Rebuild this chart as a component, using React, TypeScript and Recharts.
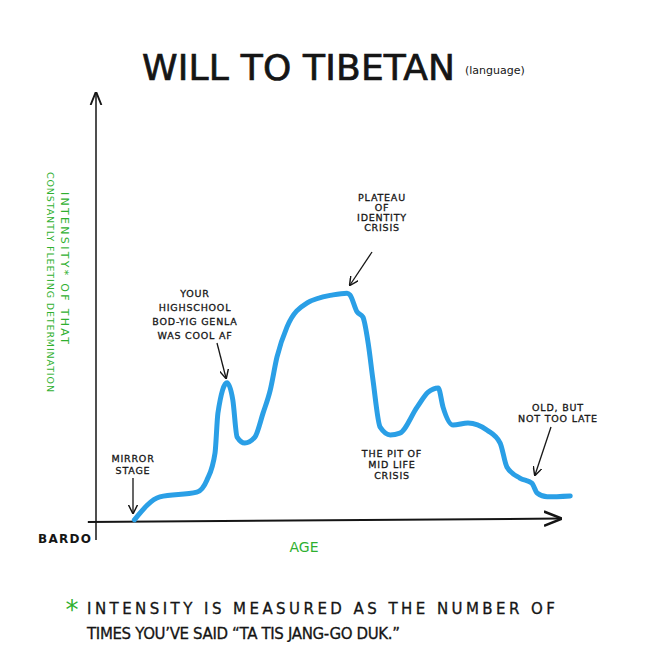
import React from 'react';
import { LineChart, Line, XAxis, YAxis, ReferenceLine } from 'recharts';

// age (x) and intensity (y)
const ages = [
  8, 13.3, 21, 23.1, 24.8, 25.4, 27.3, 28.5, 29.4, 31, 33.1, 34.8, 36.3, 37.7, 39.8, 44,
  49.4, 52.3, 52.9, 54.4, 55.6, 56.7, 57.7, 59.2, 61.3, 63.3, 66.9, 69.2, 71.3, 72.3,
  74.4, 77.5, 81.5, 84.2, 85.6, 88.3, 90.8, 91.9, 94, 98.8,
];
const intensity = [
  0.5, 5.9, 7, 9.8, 16.2, 25.5, 32.6, 28.6, 19.9, 18.5, 19.9, 25.5, 30.9, 38.6, 45.7, 51.3,
  53.2, 53.6, 53.2, 49.2, 48, 41.9, 33.3, 22.2, 20.4, 20.8, 26.9, 30.4, 31.4, 26.9,
  22.7, 23.2, 21.5, 18.5, 12.9, 10.3, 9.1, 6.8, 5.9, 6.1,
];

const titleText = 'WILL TO TIBETAN';
const titleNote = '(language)';
const yLabelLines = ['INTENSITY* OF THAT', 'CONSTANTLY FLEETING DETERMINATION'];
const xLabel = 'AGE';
const originLabel = 'BARDO';
const footnoteLines = ['INTENSITY IS MEASURED AS THE NUMBER OF', 'TIMES YOU\u2019VE SAID \u201cTA TIS JANG-GO DUK.\u201d'];

const data = ages.map((age, i) => ({ age, intensity: intensity[i] }));

const INK = '#151515';
const GREEN = '#2fb02f';
const BLUE = '#2a9fe6';
const FONT = '"DejaVu Sans", sans-serif';

const Note = ({ x, y, lines, gap = 12, size = 9.5 }: { x: number; y: number; lines: string[]; gap?: number; size?: number }) => (
  <text x={x} y={y} textAnchor="middle" fontFamily={FONT} fontSize={size} fill={INK} stroke={INK} strokeWidth={0.3} letterSpacing={0.8}>
    {lines.map((l, i) => (
      <tspan key={i} x={x} dy={i === 0 ? 0 : gap}>
        {l}
      </tspan>
    ))}
  </text>
);

const Pointer = ({ x1, y1, x2, y2 }: { x1: number; y1: number; x2: number; y2: number }) => (
  <line x1={x1} y1={y1} x2={x2} y2={y2} stroke={INK} strokeWidth={1.3} markerEnd="url(#tip)" />
);

export default function App() {
  return (
    <div style={{ width: 650, height: 650, margin: -8, background: '#fff' }}>
      <LineChart width={650} height={650} data={data} margin={{ top: 95, right: 74, bottom: 128, left: 96 }}>
        <defs>
          <marker id="tip" viewBox="0 0 10 10" refX="9" refY="5" markerWidth="7" markerHeight="7" orient="auto">
            <path d="M0,0 L10,5 L0,10" fill="none" stroke={INK} strokeWidth={1.6} />
          </marker>
          <marker id="axisTip" viewBox="0 0 10 10" refX="9" refY="5" markerWidth="9" markerHeight="9" orient="auto">
            <path d="M0,1 L10,5 L0,9" fill="none" stroke={INK} strokeWidth={1.4} />
          </marker>
        </defs>
        <XAxis type="number" dataKey="age" domain={[0, 100]} hide />
        <YAxis type="number" domain={[0, 100]} hide />
        <ReferenceLine
          segment={[{ x: -1.7, y: 0 }, { x: 96.7, y: 0.8 }]}
          ifOverflow="visible"
          stroke={INK}
          strokeWidth={2}
          markerEnd="url(#axisTip)"
        />
        <ReferenceLine
          segment={[{ x: 0, y: -4.2 }, { x: 0, y: 100.5 }]}
          ifOverflow="visible"
          stroke={INK}
          strokeWidth={1.5}
          markerEnd="url(#axisTip)"
        />
        <Line
          type="monotone"
          dataKey="intensity"
          stroke={BLUE}
          strokeWidth={5}
          strokeLinecap="round"
          strokeLinejoin="round"
          dot={false}
          isAnimationActive={false}
        />

        <text x={142} y={80} fontFamily={FONT} fontSize={36} fill={INK} stroke={INK} strokeWidth={0.7} textLength={313} lengthAdjust="spacing">
          {titleText}
        </text>
        <text x={465} y={74} fontFamily={FONT} fontSize={11} fill={INK}>
          {titleNote}
        </text>

        <text x={61} y={268} transform="rotate(90 61 268)" textAnchor="middle" fontFamily={FONT} fontSize={11} fill={GREEN} textLength={152} lengthAdjust="spacing">
          {yLabelLines[0]}
        </text>
        <text x={47} y={282} transform="rotate(90 47 282)" textAnchor="middle" fontFamily={FONT} fontSize={9.5} fill={GREEN} textLength={220} lengthAdjust="spacing">
          {yLabelLines[1]}
        </text>

        <text x={304} y={552} textAnchor="middle" fontFamily={FONT} fontSize={14} fill={GREEN}>
          {xLabel}
        </text>
        <text x={38} y={543} fontFamily={FONT} fontSize={12} fontWeight="bold" fill={INK} textLength={53} lengthAdjust="spacing">
          {originLabel}
        </text>

        <Note x={133} y={462} lines={['MIRROR', 'STAGE']} />
        <Pointer x1={133} y1={478} x2={133} y2={513} />

        <Note x={195} y={297} lines={['YOUR', 'HIGHSCHOOL', 'BOD-YIG GENLA', 'WAS COOL AF']} gap={14} />
        <Pointer x1={217} y1={343} x2={226} y2={378} />

        <Note x={382} y={201} lines={['PLATEAU', 'OF', 'IDENTITY', 'CRISIS']} gap={10} />
        <Pointer x1={372} y1={252} x2={350} y2={285} />

        <Note x={392} y={457} lines={['THE PIT OF', 'MID LIFE', 'CRISIS']} gap={11} />

        <Note x={558} y={411} lines={['OLD, BUT', 'NOT TOO LATE']} gap={11} />
        <Pointer x1={551} y1={427} x2={535} y2={475} />

        <text x={72} y={619} textAnchor="middle" fontFamily={FONT} fontSize={26} fill={GREEN}>
          *
        </text>
        <text x={87} y={614} fontFamily={FONT} fontSize={15} fill={INK} stroke={INK} strokeWidth={0.3} textLength={468} lengthAdjust="spacing">
          {footnoteLines[0]}
        </text>
        <text x={87} y={639} fontFamily={FONT} fontSize={15} fill={INK} stroke={INK} strokeWidth={0.3} textLength={313} lengthAdjust="spacing">
          {footnoteLines[1]}
        </text>
      </LineChart>
    </div>
  );
}
